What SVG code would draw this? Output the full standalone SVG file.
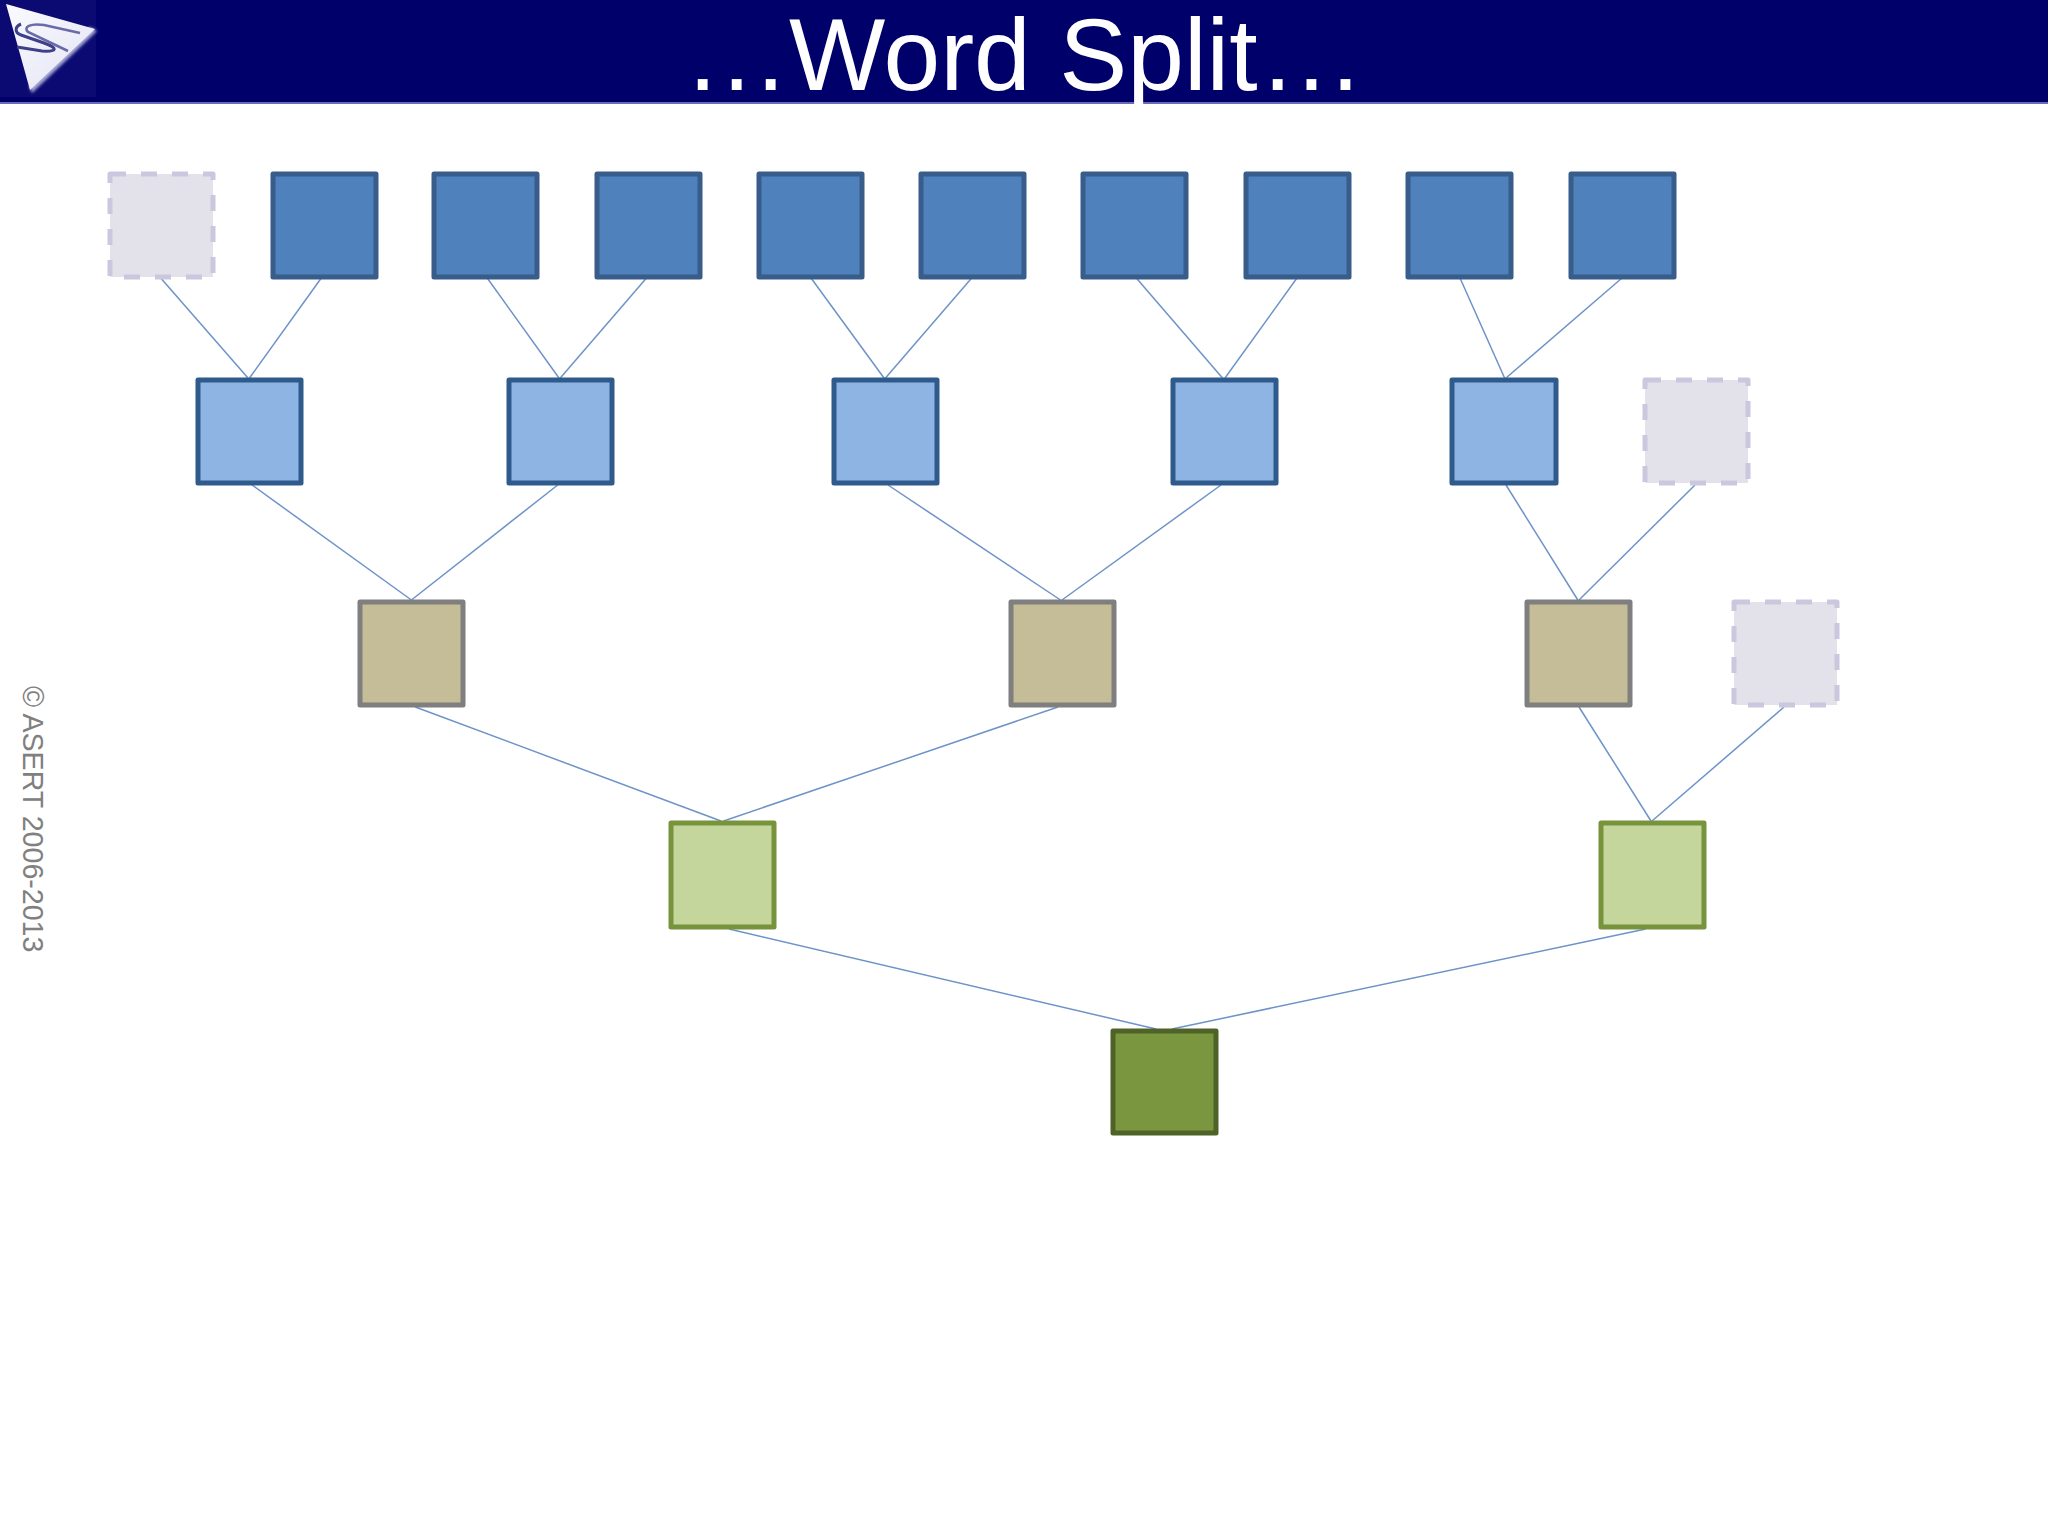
<svg xmlns="http://www.w3.org/2000/svg" width="2048" height="1536" viewBox="0 0 2048 1536">
<defs>
<filter id="soft" x="-20%" y="-20%" width="140%" height="140%"><feGaussianBlur stdDeviation="1.6"/></filter>
<filter id="softer" x="-20%" y="-20%" width="140%" height="140%"><feGaussianBlur stdDeviation="0.5"/></filter>
<linearGradient id="tri" x1="0" y1="0" x2="1" y2="1"><stop offset="0" stop-color="#fafaff"/><stop offset="1" stop-color="#e4e4f4"/></linearGradient>
</defs>
<style>
.n{stroke-width:5;stroke-linejoin:round}
.blue{fill:#4f81bd;stroke:#385d8a}
.lblue{fill:#8eb4e3;stroke:#2f5a8c}
.tan{fill:#c4bd97;stroke:#7f7f7f}
.lgreen{fill:#c4d69b;stroke:#77933c}
.dgreen{fill:#7a963e;stroke:#4f6228}
.ghost{fill:#e3e1ea;stroke:#cbc7de;stroke-dasharray:16 15}
#connectors line{stroke:#6d93c8;stroke-width:1.5;fill:none}
text{font-family:"Liberation Sans",Arial,sans-serif}
</style>
<rect width="2048" height="1536" fill="#fff"/>
<g id="header">
<rect width="2048" height="102" fill="#00006b"/>
<rect y="102" width="2048" height="2" fill="#6a6ab8"/>
<rect width="96" height="97" fill="#0a0a72"/>
</g>
<g id="logo">
<polygon points="32,93 97,31 90,27 29,86" fill="#a8a8d4" filter="url(#soft)"/>
<polygon points="6,4 95,29 30,90" fill="url(#tri)"/>
<g fill="none" filter="url(#softer)">
<path d="M21,24 C14,27 15,33 21,35 L44,43 C58,48 58,52 42,51 L17,47" stroke="#3f3f88" stroke-width="3"/>
<path d="M80,33 L44,25 C30,23 23,27 28,32 L68,51" stroke="#6a6aa8" stroke-width="2.6"/>
</g>
</g>
<text id="title" x="688.5" y="89.5" font-size="102" fill="#fff"><tspan letter-spacing="5.6">...</tspan><tspan x="789">Word Split</tspan><tspan x="1263.4" letter-spacing="5.6">...</tspan></text>
<text id="copyright" transform="translate(22.7 686) rotate(90)" font-size="28.6" fill="#808080">© ASERT 2006-2013</text>
<g id="connectors">
<line x1="160.7" y1="278" x2="248" y2="378"/>
<line x1="321.3" y1="278" x2="249.5" y2="378"/>
<line x1="487.2" y1="278" x2="559" y2="378"/>
<line x1="646.5" y1="278" x2="560.3" y2="378"/>
<line x1="811" y1="278" x2="884" y2="378"/>
<line x1="971.7" y1="278" x2="885.5" y2="378"/>
<line x1="1136.3" y1="278" x2="1222.5" y2="378"/>
<line x1="1297" y1="278" x2="1225" y2="378"/>
<line x1="1460" y1="278" x2="1504.6" y2="378"/>
<line x1="1622" y1="278" x2="1506" y2="378"/>
<line x1="252" y1="485" x2="411.4" y2="600"/>
<line x1="557.7" y1="485" x2="411.4" y2="600"/>
<line x1="888" y1="485" x2="1060.5" y2="600"/>
<line x1="1221" y1="485" x2="1062" y2="600"/>
<line x1="1506" y1="485" x2="1577.8" y2="600"/>
<line x1="1695" y1="485" x2="1579" y2="600"/>
<line x1="415.3" y1="707" x2="721" y2="821"/>
<line x1="1058" y1="707" x2="723.6" y2="821"/>
<line x1="1579" y1="707" x2="1651" y2="821"/>
<line x1="1784" y1="707" x2="1652" y2="821"/>
<line x1="729" y1="929" x2="1156" y2="1029"/>
<line x1="1645.7" y1="929" x2="1172" y2="1029"/>
</g>
<g id="row1">
<g id="a0"><rect class="n ghost" x="110" y="174" width="103" height="103"/></g>
<g id="a1"><rect class="n blue" x="273" y="174" width="103" height="103"/></g>
<g id="a2"><rect class="n blue" x="434" y="174" width="103" height="103"/></g>
<g id="a3"><rect class="n blue" x="597" y="174" width="103" height="103"/></g>
<g id="a4"><rect class="n blue" x="759" y="174" width="103" height="103"/></g>
<g id="a5"><rect class="n blue" x="921" y="174" width="103" height="103"/></g>
<g id="a6"><rect class="n blue" x="1083" y="174" width="103" height="103"/></g>
<g id="a7"><rect class="n blue" x="1246" y="174" width="103" height="103"/></g>
<g id="a8"><rect class="n blue" x="1408" y="174" width="103" height="103"/></g>
<g id="a9"><rect class="n blue" x="1571" y="174" width="103" height="103"/></g>
</g>
<g id="row2">
<g id="b0"><rect class="n lblue" x="198" y="380" width="103" height="103"/></g>
<g id="b1"><rect class="n lblue" x="509" y="380" width="103" height="103"/></g>
<g id="b2"><rect class="n lblue" x="834" y="380" width="103" height="103"/></g>
<g id="b3"><rect class="n lblue" x="1173" y="380" width="103" height="103"/></g>
<g id="b4"><rect class="n lblue" x="1452" y="380" width="104" height="103"/></g>
<g id="b5"><rect class="n ghost" x="1645" y="380" width="103" height="103"/></g>
</g>
<g id="row3">
<g id="c0"><rect class="n tan" x="360" y="602" width="103" height="103"/></g>
<g id="c1"><rect class="n tan" x="1011" y="602" width="103" height="103"/></g>
<g id="c2"><rect class="n tan" x="1527" y="602" width="103" height="103"/></g>
<g id="c3"><rect class="n ghost" x="1734" y="602" width="103" height="103"/></g>
</g>
<g id="row4">
<g id="d0"><rect class="n lgreen" x="671" y="823" width="103" height="104"/></g>
<g id="d1"><rect class="n lgreen" x="1601" y="823" width="103" height="104"/></g>
</g>
<g id="row5">
<g id="e0"><rect class="n dgreen" x="1113" y="1031" width="103" height="102"/></g>
</g>
</svg>
